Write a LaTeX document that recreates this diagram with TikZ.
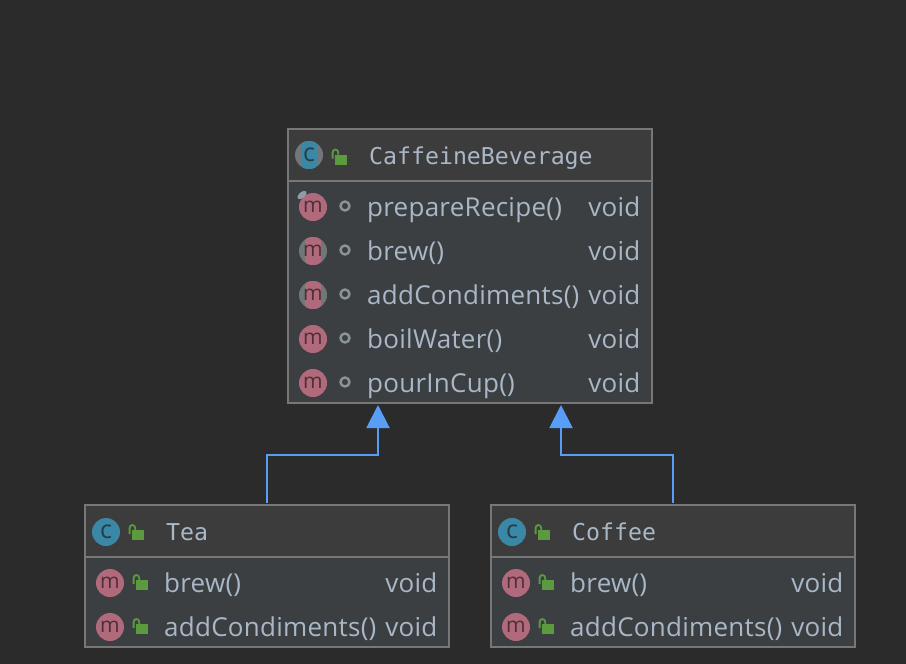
\documentclass[tikz,border=0pt]{standalone}
\usepackage{fontspec}
\setmainfont[LetterSpace=1]{Open Sans}
\newfontfamily\headfont{DejaVu Sans Mono}
\usetikzlibrary{arrows.meta}
\definecolor{canvas}{HTML}{2B2B2B}
\definecolor{headfill}{HTML}{3C3C3C}
\definecolor{bodyfill}{HTML}{3B3F42}
\definecolor{edgegray}{HTML}{777777}
\definecolor{linkblue}{HTML}{589DF6}
\definecolor{labelblue}{HTML}{A9B7C6}
\definecolor{classteal}{HTML}{3A88A5}
\definecolor{classink}{HTML}{263C48}
\definecolor{methodred}{HTML}{B06A7C}
\definecolor{methodink}{HTML}{4E2F38}
\definecolor{abstgray}{HTML}{6F7779}
\definecolor{lockgreen}{HTML}{5B9A3F}
\definecolor{dotgray}{HTML}{8B9598}
\def\headsize{\fontsize{23.2}{26}\selectfont}
\def\rowsize{\fontsize{26}{30}\selectfont}
\tikzset{
  headbox/.style={rectangle,draw=edgegray,line width=2pt,fill=headfill,minimum width=364pt,minimum height=52pt,inner sep=0pt},
  bodybox/.style={rectangle,draw=edgegray,line width=2pt,fill=bodyfill,minimum width=364pt,inner sep=0pt},
  headtext/.style={anchor=base west,inner sep=0pt,text=labelblue,font=\headfont\headsize},
  rowtext/.style={anchor=base west,inner sep=0pt,text=labelblue,font=\rowsize},
  typetext/.style={anchor=base east,inner sep=0pt,text=labelblue,font=\rowsize},
  iconc/.style={circle,fill=classteal,text=classink,minimum size=28pt,inner sep=0pt,font=\fontsize{25}{25}\selectfont},
  iconm/.style={circle,fill=methodred,text=methodink,minimum size=28pt,inner sep=0pt,font=\fontsize{21}{21}\selectfont},
  abstract/.style={fill=abstgray,path picture={\fill[#1] ([xshift=-8pt]path picture bounding box.south) rectangle ([xshift=8pt]path picture bounding box.north);}},
  visdot/.style={circle,draw=dotgray,line width=2.4pt,minimum size=9pt,inner sep=0pt},
  extends/.style={draw=linkblue,line width=2pt,-{Triangle[length=23pt,width=23pt,fill=linkblue]}},
  lock/.pic={
    \fill[lockgreen] (-6,-5) rectangle (6,5);
    \draw[lockgreen,line width=1.8pt] (-8.4,-1) -- (-8.4,-7) arc[start angle=180,end angle=0,x radius=2.8pt,y radius=3pt] -- (-2.8,-5);
  }
}
\begin{document}
\begin{tikzpicture}[x=1pt,y=-1pt]
\useasboundingbox[fill=canvas] (0,0) rectangle (906,664);
% boxes
\node[headbox] at (470,155) (cafhead) {};
\node[bodybox,minimum height=222pt] at (470,292) (cafbody) {};
\node[headbox] at (267,531) (teahead) {};
\node[bodybox,minimum height=90pt] at (267,602) (teabody) {};
\node[headbox] at (673,531) (cofhead) {};
\node[bodybox,minimum height=90pt] at (673,602) (cofbody) {};
% titles
\node[iconc,abstract=classteal] at (309,155) (cafc) {c};
\pic at (341,159.5) {lock};
\node[headtext] at (369,164) (caftitle) {CaffeineBeverage};
\node[iconc] at (106,532) (teac) {c};
\pic at (138,535) {lock};
\node[headtext] at (166,540) (teatitle) {Tea};
\node[iconc] at (512,532) (cofc) {c};
\pic at (544,535) {lock};
\node[headtext] at (572,540) (coftitle) {Coffee};
% members of the base class
\foreach \name/\ypos/\label in {a/207/prepareRecipe(),b/251/brew(),c/295/addCondiments(),d/339/boilWater(),e/383/pourInCup()} {
  \node[visdot] at (345,\ypos-1) (dot\name) {};
  \node[rowtext] at (367,\ypos+9) (row\name) {\label};
  \node[typetext] at (640.5,\ypos+9) (type\name) {void};
}
\node[iconm] at (313,207) (ma) {m};
\node[iconm,abstract=methodred] at (313,251) (mb) {m};
\node[iconm,abstract=methodred] at (313,295) (mc) {m};
\node[iconm] at (313,339) (md) {m};
\node[iconm] at (313,383) (me) {m};
\fill[labelblue!85!black,rotate around={40:(302,195)}] (302,195) ellipse (5.5pt and 3pt);
% members of the subclasses
\foreach \pre/\xoff in {tea/0,cof/406} {
  \foreach \name/\ypos/\label in {a/583/brew(),b/627/addCondiments()} {
    \node[iconm] at (110+\xoff,\ypos) (\pre m\name) {m};
    \pic at (142+\xoff,\ypos+2) {lock};
    \node[rowtext] at (164+\xoff,\ypos+9) (\pre row\name) {\label};
    \node[typetext] at (437.5+\xoff,\ypos+9) (\pre type\name) {void};
  }
}
% inheritance
\coordinate (tipa) at (378,405);
\coordinate (tipb) at (561,405);
\coordinate (benda) at (378,455);
\coordinate (bendb) at (561,455);
\draw[extends] ([yshift=1pt]teahead.north) |- (benda) -- (tipa);
\draw[extends] ([yshift=1pt]cofhead.north) |- (bendb) -- (tipb);
\end{tikzpicture}
\end{document}
